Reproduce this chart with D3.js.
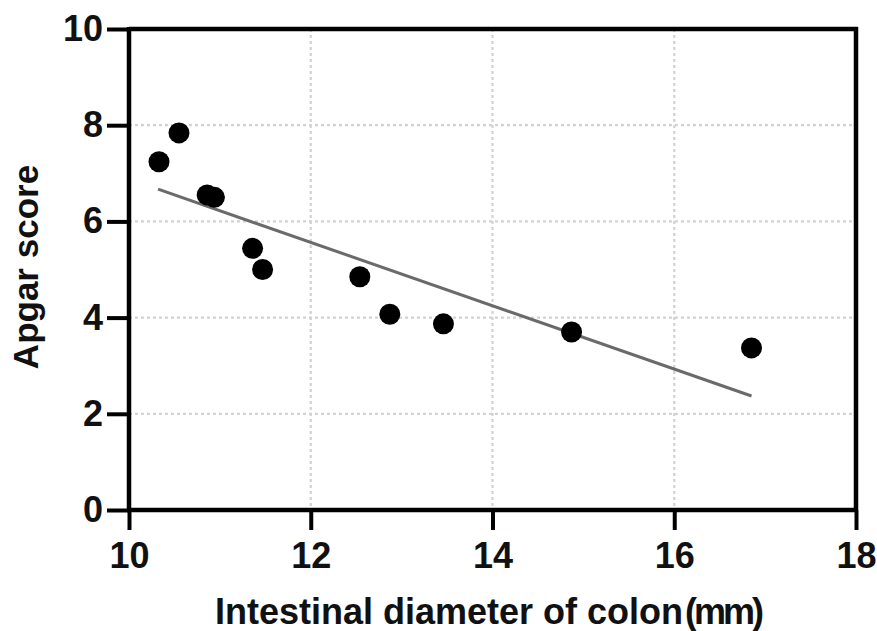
<!DOCTYPE html>
<html>
<head>
<meta charset="utf-8">
<script src="https://cdn.jsdelivr.net/npm/d3@7"></script>
<style>
  body { margin: 0; background: #fff; }
  svg text { font-family: "Liberation Sans", Arial, sans-serif; font-weight: bold; fill: #111; }
</style>
</head>
<body>
<div id="chart"></div>
<script>
// Data
const diameter = [10.33, 10.55, 10.86, 10.94, 11.36, 11.47, 12.54, 12.87, 13.46, 14.87, 16.85]
const apgar    = [7.24, 7.84, 6.55, 6.50, 5.44, 5.00, 4.85, 4.07, 3.87, 3.70, 3.37]

// fitted line ends
const fitX = [10.32, 16.85]
const fitY = [6.67, 2.37]

const xTicks = [10, 12, 14, 16, 18]
const yTicks = [0, 2, 4, 6, 8, 10]
const xGrid = [12, 14, 16]
const yGrid = [2, 4, 6, 8]

const width = 877, height = 631

const svg = d3.select('#chart').append('svg')
    .attr('width', width)
    .attr('height', height)

// Scales
const xScale = d3.scaleLinear().domain([10, 18]).range([129, 856])
const yScale = d3.scaleLinear().domain([0, 10]).range([510, 29])

// Grid
svg.append('g').selectAll('line')
    .data(xGrid)
    .enter()
    .append('line')
    .attr('x1', d=>xScale(d)).attr('x2', d=>xScale(d))
    .attr('y1', yScale(10)).attr('y2', yScale(0))
    .style('stroke', '#d2d2d2')
    .style('stroke-width', 2.2)
    .style('stroke-dasharray', '3,3')

svg.append('g').selectAll('line')
    .data(yGrid)
    .enter()
    .append('line')
    .attr('x1', xScale(10)).attr('x2', xScale(18))
    .attr('y1', d=>yScale(d)).attr('y2', d=>yScale(d))
    .style('stroke', '#d2d2d2')
    .style('stroke-width', 2.2)
    .style('stroke-dasharray', '3,3')

// Fit line
const line = d3.line()
    .x((d, i)=>xScale(d))
    .y((_, i)=>yScale(fitY[i]))

svg.append('path')
    .datum(fitX)
    .attr('d', line)
    .style('fill', 'none')
    .style('stroke', '#6a6a6a')
    .style('stroke-width', 3)

// Points
svg.append('g').selectAll('circle')
    .data(diameter)
    .enter()
    .append('circle')
    .attr('cx', d=>xScale(d))
    .attr('cy', (_, i)=>yScale(apgar[i]))
    .attr('r', 10.5)
    .style('fill', '#000')

// Frame (top and right)
svg.append('line')
    .attr('x1', xScale(10)).attr('x2', xScale(18) + 2)
    .attr('y1', yScale(10)).attr('y2', yScale(10))
    .style('stroke', '#000').style('stroke-width', 4.5)
svg.append('line')
    .attr('x1', xScale(18)).attr('x2', xScale(18))
    .attr('y1', yScale(10) - 2).attr('y2', yScale(0))
    .style('stroke', '#000').style('stroke-width', 4.5)

// Axes
const xAxis = d3.axisBottom(xScale)
    .tickValues(xTicks)
    .tickSizeOuter(0)
    .tickSize(20)
    .tickPadding(12)
const yAxis = d3.axisLeft(yScale)
    .tickValues(yTicks)
    .tickSizeOuter(0)
    .tickSize(22)
    .tickPadding(4)

const gx = svg.append('g')
    .attr('transform', 'translate(0,' + yScale(0) + ')')
    .call(xAxis)
const gy = svg.append('g')
    .attr('transform', 'translate(' + xScale(10) + ',0)')
    .call(yAxis)

gx.select('.domain').attr('d', 'M' + (xScale(10) - 2) + ',0H' + (xScale(18) + 2))
gy.select('.domain').attr('d', 'M0,' + (yScale(0) + 2) + 'V' + (yScale(10) - 2))

svg.selectAll('.domain')
    .style('stroke', '#000')
    .style('stroke-width', 4.5)
svg.selectAll('.tick line')
    .style('stroke', '#000')
    .style('stroke-width', 4)
svg.selectAll('.tick text')
    .style('font-size', '36px')
    .style('fill', '#111')

// Axis titles
const xTitle = svg.append('text')
    .attr('x', 488)
    .attr('y', 624)
    .attr('text-anchor', 'middle')
    .style('font-size', '36px')
xTitle.append('tspan').text('Intestinal diameter of colon')
xTitle.append('tspan')
    .attr('dx', 2)
    .style('letter-spacing', '-3px')
    .text('(mm)')

svg.append('text')
    .attr('transform', 'translate(38,267) rotate(-90)')
    .attr('text-anchor', 'middle')
    .style('font-size', '35px')
    .text('Apgar score')
</script>
</body>
</html>
